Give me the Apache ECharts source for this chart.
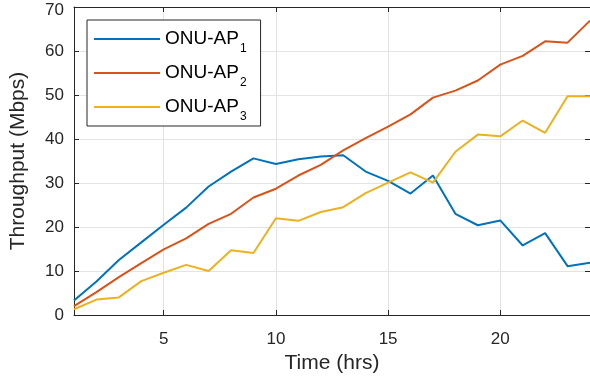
<!DOCTYPE html>
<html>
<head>
<meta charset="utf-8">
<script src="https://cdn.jsdelivr.net/npm/echarts@6/dist/echarts.min.js"></script>
<style>html,body{margin:0;padding:0;background:#fff;}#c{width:590px;height:386px;}</style>
</head>
<body>
<div id="c"></div>
<script>
const hours = [1,2,3,4,5,6,7,8,9,10,11,12,13,14,15,16,17,18,19,20,21,22,23,24];
const ap1 = [3.3,7.6,12.5,16.5,20.5,24.4,29.2,32.6,35.6,34.3,35.4,36.0,36.3,32.6,30.5,27.6,31.7,23.0,20.4,21.5,15.8,18.6,11.1,11.9];
const ap2 = [2.0,5.2,8.6,11.8,14.9,17.4,20.7,23.0,26.7,28.7,31.7,34.1,37.4,40.2,42.8,45.6,49.4,51.0,53.3,56.9,58.9,62.2,61.9,66.9];
const ap3 = [1.3,3.5,4.0,7.7,9.6,11.4,10.0,14.7,14.1,22.0,21.4,23.4,24.5,27.7,30.1,32.4,30.1,37.1,41.0,40.6,44.2,41.4,49.7,49.7];
const seriesNames = ['ONU-AP1','ONU-AP2','ONU-AP3'];
const xTicks = [5,10,15,20];
const yTicks = [0,10,20,30,40,50,60,70];

const FONT = 'Liberation Sans';
const DARK = '#262626';
const colors = ['#0072BD','#D95319','#EDB120'];
const chart = echarts.init(document.getElementById('c'), null, {renderer:'canvas'});
const pair = (ys) => hours.map((h,i)=>[h, ys[i]]);
const commonX = {type:'value', min:1, max:24,
  axisLine:{show:true, onZero:false, lineStyle:{color:DARK, width:1}},
  axisTick:{show:true, inside:true, length:5, customValues:xTicks, lineStyle:{color:DARK}},
};
const commonY = {type:'value', min:0, max:70, interval:10,
  axisLine:{show:true, onZero:false, lineStyle:{color:DARK, width:1}},
  axisTick:{show:true, inside:true, length:5, lineStyle:{color:DARK}},
};
chart.setOption({
  animation:false,
  backgroundColor:'#fff',
  grid:{left:74, right:-3, top:7, bottom:71, containLabel:false},
  xAxis:[
    Object.assign({}, commonX, {position:'bottom',
      name:'Time (hrs)', nameLocation:'middle', nameGap:36,
      nameTextStyle:{fontFamily:FONT, fontSize:21, color:DARK},
      axisLabel:{show:true, customValues:xTicks, fontFamily:FONT, fontSize:17, color:DARK, margin:16},
      splitLine:{show:true, customValues:xTicks, lineStyle:{color:'#e3e3e3', width:1}}}),
    Object.assign({}, commonX, {position:'top', axisLabel:{show:false}, splitLine:{show:false}})
  ],
  yAxis:[
    Object.assign({}, commonY, {position:'left',
      name:'Throughput (Mbps)', nameLocation:'middle', nameGap:45,
      nameTextStyle:{fontFamily:FONT, fontSize:21, color:DARK},
      axisLabel:{show:true, fontFamily:FONT, fontSize:17, color:DARK, margin:10,
        formatter:(v)=> !yTicks.includes(v) ? '' : (v === 70 ? '{t|70}' : String(v)),
        rich:{t:{fontFamily:FONT, fontSize:17, color:DARK, padding:[7,0,0,0]}}},
      splitLine:{show:true, lineStyle:{color:'#e3e3e3', width:1}}}),
    Object.assign({}, commonY, {position:'right', axisLabel:{show:false}, splitLine:{show:false}})
  ],
  legend:{
    orient:'vertical', left:87, top:20,
    padding:[3,14,3,7], itemGap:2, itemWidth:66, itemHeight:14,
    backgroundColor:'#fff', borderColor:DARK, borderWidth:1, borderRadius:0,
    icon:'path://M0,6L66,6L66,8L0,8Z',
    data:seriesNames,
    formatter:(n)=> '{a|ONU-AP}{s|' + n.slice(-1) + '}',
    textStyle:{fontFamily:FONT, fontSize:19, color:'#000',
      rich:{a:{fontFamily:FONT, fontSize:19, color:'#000'},
            s:{fontFamily:FONT, fontSize:12, color:'#000', lineHeight:14, padding:[20,0,0,1]}}}
  },
  series:[ap1,ap2,ap3].map((d,i)=>({
    name:seriesNames[i], type:'line', data:pair(d), symbol:'none', showSymbol:false,
    xAxisIndex:0, yAxisIndex:0,
    lineStyle:{color:colors[i], width:2}, itemStyle:{color:colors[i]}, z:3
  }))
});
</script>
</body>
</html>
